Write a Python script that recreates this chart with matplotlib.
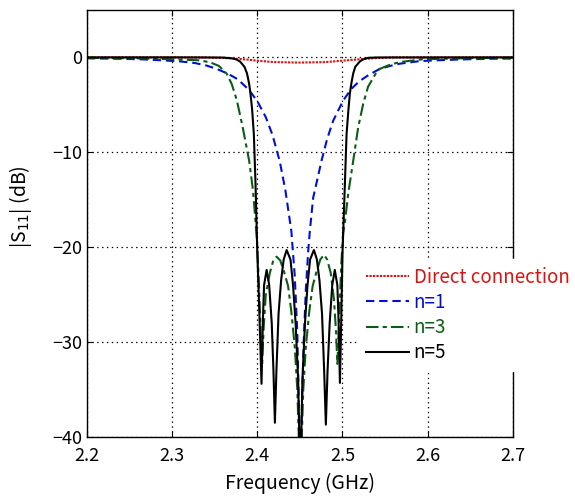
import numpy as np
import matplotlib
matplotlib.use('Agg')
import matplotlib.pyplot as plt

plt.rcParams['font.family'] = ['Noto Sans CJK JP', 'DejaVu Sans']
plt.rcParams['lines.scale_dashes'] = False

# values (GHz, dB)
f_direct = [2.20, 2.34, 2.37, 2.39, 2.40, 2.42, 2.45, 2.48, 2.50, 2.52, 2.54, 2.56, 2.70]
s_direct = [0.0, 0.0, -0.1, -0.25, -0.35, -0.5, -0.55, -0.5, -0.35, -0.2, -0.08, 0.0, 0.0]

f_n1 = [2.200, 2.215, 2.240, 2.262, 2.286, 2.309, 2.327, 2.340, 2.352, 2.365, 2.377, 2.390,
        2.400, 2.410, 2.418, 2.4265, 2.433, 2.440, 2.444, 2.447, 2.4495, 2.4505, 2.4515,
        2.4545, 2.457, 2.4598, 2.4617, 2.4656, 2.4754, 2.482, 2.489, 2.5008, 2.5106, 2.520,
        2.530, 2.540, 2.544, 2.556, 2.567, 2.591, 2.614, 2.638, 2.670, 2.700]
s_n1 = [-0.10, -0.12, -0.15, -0.2, -0.3, -0.42, -0.6, -0.85, -1.2, -1.7, -2.3, -3.4,
        -4.6, -6.3, -8.2, -11.0, -14.0, -18.3, -23.0, -29.0, -40.0, -45.0, -40.0,
        -30.0, -24.5, -20.4, -18.3, -14.8, -10.9, -8.6, -6.7, -4.55, -3.3, -2.5,
        -1.9, -1.4, -1.2, -0.9, -0.67, -0.39, -0.3, -0.22, -0.15, -0.12]

f_n3 = [2.200, 2.250, 2.300, 2.330, 2.344, 2.355, 2.364, 2.370, 2.376, 2.383, 2.3905, 2.395,
        2.3995, 2.402, 2.404, 2.4057, 2.4075, 2.410, 2.4148, 2.4185, 2.4226, 2.427, 2.4315,
        2.4362, 2.440, 2.444, 2.447, 2.4505, 2.454, 2.457, 2.461, 2.465, 2.4695, 2.474,
        2.4784, 2.482, 2.4862, 2.490, 2.4925, 2.494, 2.496, 2.4985, 2.5008, 2.5028, 2.5067,
        2.5126, 2.5184, 2.5243, 2.530, 2.540, 2.544, 2.556, 2.567, 2.594, 2.650, 2.700]
s_n3 = [-0.05, -0.08, -0.2, -0.3, -0.5, -0.9, -1.7, -2.8, -4.5, -7.4, -10.9, -14.0,
        -19.0, -24.0, -29.0, -32.5, -28.5, -25.0, -22.7, -21.5, -21.0, -21.4, -22.6,
        -24.1, -26.8, -30.5, -35.0, -45.0, -35.0, -30.5, -26.8, -24.1, -22.6, -21.3,
        -20.8, -21.3, -22.7, -25.5, -29.0, -32.3, -28.0, -22.0, -18.5, -17.4, -14.4,
        -10.9, -7.4, -4.9, -3.1, -1.55, -1.2, -0.77, -0.5, -0.2, -0.08, -0.05]

f_n5 = [2.200, 2.300, 2.360, 2.370, 2.375, 2.380, 2.385, 2.388, 2.3905, 2.392, 2.394, 2.396,
        2.398, 2.400, 2.4025, 2.405, 2.4065, 2.408, 2.411, 2.414, 2.417, 2.419, 2.4207,
        2.4225, 2.425, 2.428, 2.431, 2.4345, 2.439, 2.442, 2.445, 2.448, 2.4505, 2.453,
        2.456, 2.459, 2.462, 2.4665, 2.470, 2.473, 2.476, 2.4785, 2.4805, 2.4825, 2.485,
        2.488, 2.491, 2.494, 2.4955, 2.497, 2.4985, 2.5001, 2.5028, 2.5048, 2.507, 2.5087,
        2.5105, 2.5126, 2.515, 2.5205, 2.525, 2.530, 2.540, 2.700]
s_n5 = [0.0, 0.0, -0.02, -0.1, -0.2, -0.45, -1.0, -1.7, -2.8, -3.8, -5.5, -8.1,
        -13.4, -20.4, -27.0, -34.4, -28.0, -24.0, -22.4, -24.0, -28.0, -33.0, -38.5,
        -33.0, -27.0, -23.5, -21.3, -20.3, -21.3, -24.0, -28.0, -34.0, -45.0, -34.0,
        -28.0, -24.0, -21.3, -20.3, -21.3, -23.5, -27.0, -33.0, -38.7, -33.0, -28.0,
        -24.0, -22.4, -24.0, -28.0, -34.3, -28.0, -20.4, -13.4, -8.1, -5.5, -3.8,
        -2.7, -1.7, -1.0, -0.42, -0.18, -0.05, -0.01, 0.0]

fig = plt.figure(figsize=(5.75, 4.96), dpi=100)
ax = fig.add_axes([0.151, 0.119, 0.741, 0.861])

ax.plot(f_direct, s_direct, color='#e01010', lw=1.5, dashes=(1.6, 0.9), label='Direct connection')
ax.plot(f_n1, s_n1, color='#0010d0', lw=1.5, dashes=(6, 3.5), label='n=1')
ax.plot(f_n3, s_n3, color='#0a5e14', lw=1.5, dashes=(9, 3, 3, 3), label='n=3')
ax.plot(f_n5, s_n5, color='black', lw=1.5, label='n=5')

ax.set_xlim(2.2, 2.7)
ax.set_ylim(-40, 5)
ax.set_xticks([2.2, 2.3, 2.4, 2.5, 2.6, 2.7])
ax.set_xticklabels(['2.2', '2.3', '2.4', '2.5', '2.6', '2.7'])
ax.set_yticks([0, -10, -20, -30, -40])
ax.grid(True, color='black', linestyle=(0, (1, 2.5)), linewidth=0.9)
ax.tick_params(direction='in', top=True, right=True, labelsize=13, length=4)
ax.tick_params(axis='x', pad=7)
for sp in ax.spines.values():
    sp.set_linewidth(1.0)

ax.set_xlabel('Frequency (GHz)', fontsize=14, labelpad=6)
ax.set_ylabel(r'|S$_{11}$| (dB)', fontsize=14)
ax.yaxis.set_label_coords(-0.124, 0.54)

leg = fig.legend(loc='upper left', bbox_to_anchor=(349 / 575, 1 - 250 / 496),
                 fontsize=13.5, frameon=True, fancybox=False, framealpha=1,
                 edgecolor='white', facecolor='white', handlelength=2.3,
                 handletextpad=0.25, labelspacing=0.22, borderpad=0.4,
                 labelcolor='linecolor')

fig.savefig('out.png', dpi=100)
